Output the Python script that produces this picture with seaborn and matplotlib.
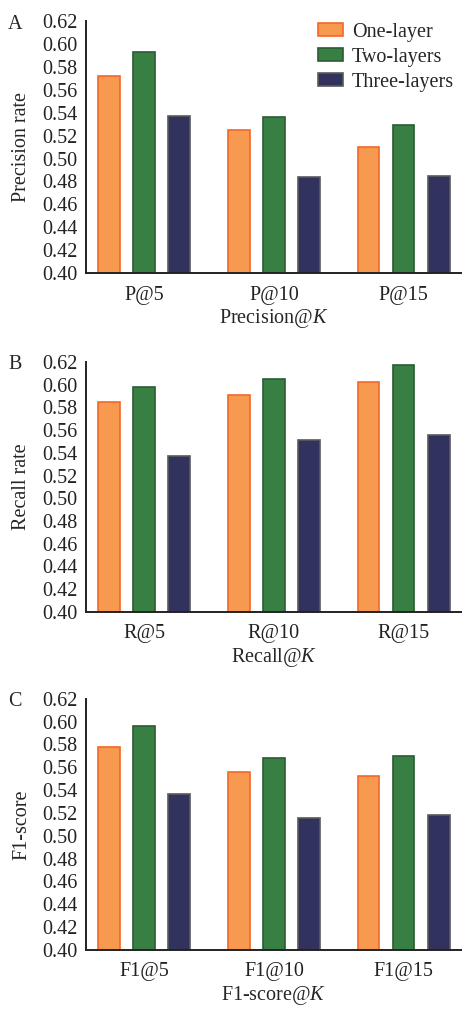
import numpy as np
import pandas as pd
import matplotlib
matplotlib.use("Agg")
import matplotlib.pyplot as plt
import seaborn as sns

# data
layers = ["One-layer", "Two-layers", "Three-layers"]

prec_cats = ["P@5", "P@10", "P@15"]
prec_one = [0.572, 0.525, 0.510]
prec_two = [0.593, 0.536, 0.529]
prec_three = [0.537, 0.484, 0.485]

rec_cats = ["R@5", "R@10", "R@15"]
rec_one = [0.585, 0.591, 0.602]
rec_two = [0.598, 0.605, 0.617]
rec_three = [0.537, 0.551, 0.556]

f1_cats = ["F1@5", "F1@10", "F1@15"]
f1_one = [0.578, 0.556, 0.552]
f1_two = [0.596, 0.568, 0.570]
f1_three = [0.537, 0.516, 0.518]

face_cols = ["#F7994F", "#377F42", "#31325E"]
edge_cols = ["#F2672A", "#2A5C32", "#5A5A5E"]

sns.set_style("white")
plt.rcParams["font.family"] = ["Liberation Serif", "DejaVu Serif"]
plt.rcParams["mathtext.fontset"] = "custom"
plt.rcParams["mathtext.it"] = "Liberation Serif:italic"
plt.rcParams["mathtext.rm"] = "Liberation Serif"


def make_df(cats, one, two, three):
    rows = []
    for lab, vals in zip(layers, [one, two, three]):
        for c, v in zip(cats, vals):
            rows.append({"cat": c, "layer": lab, "value": v})
    return pd.DataFrame(rows)


panels = [
    ("A", make_df(prec_cats, prec_one, prec_two, prec_three), "Precision rate", "Precision@$K$",
     [0.186, 0.7294, 0.814, 0.2497]),
    ("B", make_df(rec_cats, rec_one, rec_two, rec_three), "Recall rate", "Recall@$K$",
     [0.186, 0.3935, 0.814, 0.2478]),
    ("C", make_df(f1_cats, f1_one, f1_two, f1_three), "F1-score", "F1-score@$K$",
     [0.186, 0.0585, 0.814, 0.2490]),
]

fig = plt.figure(figsize=(4.62, 10.09), dpi=100)
fs = 14.5

for i, (letter, df, ylab, xlab, pos) in enumerate(panels):
    ax = fig.add_axes(pos)
    sns.barplot(data=df, x="cat", y="value", hue="layer", hue_order=layers,
                palette=face_cols, saturation=1, width=0.81, gap=0.38,
                legend=False, ax=ax)
    for cont, ec in zip(ax.containers, edge_cols):
        for p in cont:
            p.set_edgecolor(ec)
            p.set_linewidth(1.2)
    ax.set_ylim(0.40, 0.62)
    ax.set_xlim(-0.45, 2.45)
    ax.set_yticks(np.arange(0.40, 0.621, 0.02))
    ax.set_yticklabels([f"{t:.2f}" for t in np.arange(0.40, 0.621, 0.02)])
    sns.despine(ax=ax)
    for s in ["left", "bottom"]:
        ax.spines[s].set_linewidth(1.4)
        ax.spines[s].set_color("#222222")
    ax.tick_params(axis="both", direction="in", length=3, width=1.2, labelsize=fs,
                   colors="#222222", pad=6)
    ax.tick_params(axis="x", pad=9)
    ax.set_ylabel(ylab, fontsize=fs, labelpad=8)
    ax.set_xlabel(xlab, fontsize=fs, labelpad=2)
    fig.text(0.033, pos[1] + pos[3] - 0.003, letter, fontsize=fs, ha="center", va="center")
    if i == 0:
        ax.legend(ax.containers, layers, loc="upper right", frameon=False, fontsize=fs,
                  handlelength=1.25, handleheight=0.6, labelspacing=0.3,
                  borderaxespad=0.0, handletextpad=0.45, bbox_to_anchor=(1.0, 1.025))

fig.savefig("out.png", dpi=100)
